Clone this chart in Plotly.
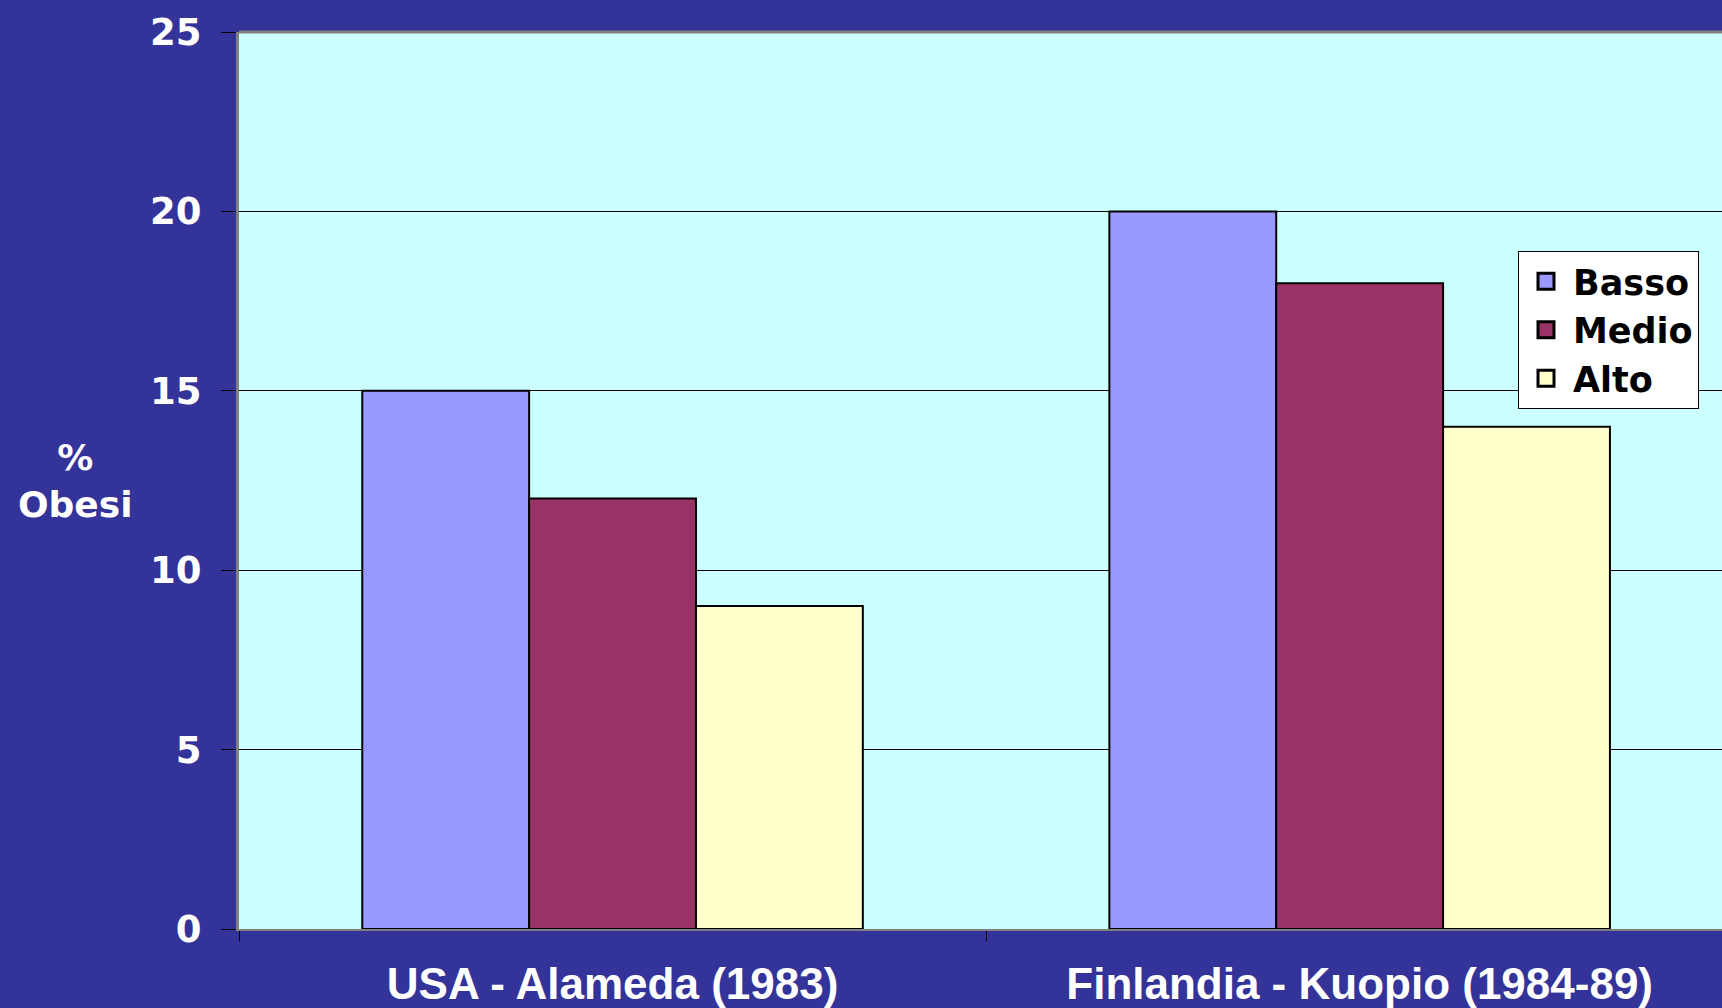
import plotly.graph_objects as go

categories = ["USA - Alameda (1983)", "Finlandia - Kuopio (1984-89)"]
series_names = ["Basso", "Medio", "Alto"]
basso = [15, 20]
medio = [12, 18]
alto = [9, 14]
y_ticks = [0, 5, 10, 15, 20, 25]

colors = ["#9999FF", "#993366", "#FFFFCC"]
values = [basso, medio, alto]

W, H = 1722, 1008
ml, mr, mt, mb = 239, 0, 32, 79
pw, ph = W - ml - mr, H - mt - mb

fig = go.Figure()
for name, vals, col in zip(series_names, values, colors):
    fig.add_trace(go.Bar(
        x=categories, y=vals, name=name, showlegend=False,
        marker=dict(color=col, line=dict(color="black", width=2)),
    ))
# legend entries with larger square swatches
for name, col in zip(series_names, colors):
    fig.add_trace(go.Scatter(
        x=[None], y=[None], name=name, mode="markers",
        marker=dict(symbol="square", size=16, color=col, line=dict(color="black", width=3)),
    ))

def px_to_paper_x(px):
    return (px - ml) / pw

def px_to_paper_y(py):
    return (H - mb - py) / ph

fig.update_layout(
    width=W, height=H,
    margin=dict(l=ml, r=mr, t=mt, b=mb, pad=0),
    paper_bgcolor="#333399",
    plot_bgcolor="#CCFFFF",
    barmode="group",
    bargap=0.33,
    bargroupgap=0,
    showlegend=True,
    legend=dict(
        x=px_to_paper_x(1518), y=px_to_paper_y(251),
        xanchor="left", yanchor="top",
        bgcolor="white", bordercolor="black", borderwidth=1,
        font=dict(family="DejaVu Sans", size=35, color="black", weight="bold"),
        itemwidth=44, tracegroupgap=0, itemsizing="trace",
    ),
    xaxis=dict(
        type="category",
        range=[-0.5, 1.485],
        showgrid=False,
        showline=True, linecolor="#808080", linewidth=2,
        ticks="outside", tickson="boundaries", ticklen=10, tickcolor="black", tickwidth=1,
        tickfont=dict(family="Liberation Sans", size=44, color="white", weight="bold"),
        ticklabelstandoff=15,
    ),
    yaxis=dict(
        range=[0, 25],
        tickvals=y_ticks,
        showgrid=True, gridcolor="black", gridwidth=1,
        showline=True, linecolor="#808080", linewidth=3, mirror=False,
        ticks="outside", ticklen=15, tickcolor="black", tickwidth=1,
        tickfont=dict(family="DejaVu Sans", size=37, color="white", weight="bold"),
        ticklabelstandoff=12,
        zeroline=False,
    ),
    shapes=[dict(type="line", xref="paper", yref="paper", x0=0, x1=1, y0=1, y1=1,
                 line=dict(color="#808080", width=3))],
    annotations=[dict(
        text="%<br>Obesi", xref="paper", yref="paper",
        x=px_to_paper_x(75), y=0.5, xanchor="center", yanchor="middle",
        showarrow=False,
        font=dict(family="DejaVu Sans", size=36, color="white", weight="bold"),
    )],
)

fig.write_html("out.html", config={"displayModeBar": False},
               post_script="document.body.style.margin='0';document.body.style.overflow='hidden';")
